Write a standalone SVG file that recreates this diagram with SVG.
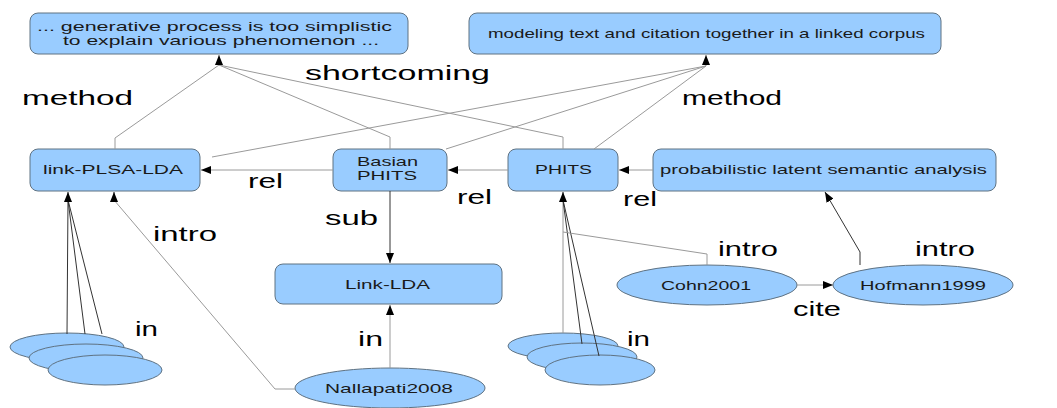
<svg xmlns="http://www.w3.org/2000/svg" width="1057" height="408" viewBox="0 0 1057 408">
<style>
.box{fill:#99ccff;stroke:#5f7282;stroke-width:1}
.t{font-family:"Liberation Sans",Arial,sans-serif;font-size:13px;fill:#1a1a1a}
.lab{font-family:"Liberation Sans",Arial,sans-serif;font-size:20px;fill:#000}
.c{fill:none;stroke:#9a9a9a;stroke-width:1}
.d{fill:none;stroke:#333;stroke-width:1}
.a{marker-end:url(#arr)}
</style>
<defs>
<marker id="arr" markerUnits="userSpaceOnUse" markerWidth="10" markerHeight="8" refX="10" refY="4" orient="auto">
<path d="M0,0 L10,4 L0,8 z" fill="#000"/>
</marker>
</defs>
<rect width="1057" height="408" fill="#fff"/>

<g id="n-generative"><rect class="box" x="30" y="13" width="378" height="41" rx="8"/>
<text class="t" x="37" y="31" textLength="355" lengthAdjust="spacingAndGlyphs">... generative process is too simplistic</text>
<text class="t" x="63" y="45" textLength="316" lengthAdjust="spacingAndGlyphs">to explain various phenomenon ...</text></g>
<g id="n-modeling"><rect class="box" x="469" y="13" width="472" height="41" rx="8"/>
<text class="t" x="488" y="38" textLength="437" lengthAdjust="spacingAndGlyphs">modeling text and citation together in a linked corpus</text></g>
<g id="n-linkplsa"><rect class="box" x="30" y="149" width="170" height="42" rx="8"/>
<text class="t" x="43" y="174" textLength="140" lengthAdjust="spacingAndGlyphs">link-PLSA-LDA</text></g>
<g id="n-basian"><rect class="box" x="333" y="149" width="114" height="42" rx="8"/>
<text class="t" x="357" y="166" textLength="61" lengthAdjust="spacingAndGlyphs">Basian</text>
<text class="t" x="357" y="180" textLength="60" lengthAdjust="spacingAndGlyphs">PHITS</text></g>
<g id="n-phits"><rect class="box" x="508" y="149" width="110" height="42" rx="8"/>
<text class="t" x="535" y="174" textLength="57" lengthAdjust="spacingAndGlyphs">PHITS</text></g>
<g id="n-plsa"><rect class="box" x="653" y="149" width="343" height="42" rx="8"/>
<text class="t" x="660" y="174" textLength="327" lengthAdjust="spacingAndGlyphs">probabilistic latent semantic analysis</text></g>
<g id="n-linklda"><rect class="box" x="275" y="264" width="227" height="40" rx="8"/>
<text class="t" x="345" y="289" textLength="85" lengthAdjust="spacingAndGlyphs">Link-LDA</text></g>
<g id="n-nallapati"><ellipse class="box" cx="390" cy="388" rx="95" ry="20"/>
<text class="t" x="325" y="393" textLength="128" lengthAdjust="spacingAndGlyphs">Nallapati2008</text></g>
<g id="n-cohn"><ellipse class="box" cx="707" cy="285" rx="90" ry="20"/>
<text class="t" x="661" y="290" textLength="90" lengthAdjust="spacingAndGlyphs">Cohn2001</text></g>
<g id="n-hofmann"><ellipse class="box" cx="923" cy="285" rx="90" ry="20"/>
<text class="t" x="860" y="290" textLength="126" lengthAdjust="spacingAndGlyphs">Hofmann1999</text></g>
<g id="n-leftstack">
<ellipse class="box" cx="67" cy="347" rx="57" ry="14"/>
<ellipse class="box" cx="86" cy="358" rx="57" ry="14"/>
<ellipse class="box" cx="105" cy="370" rx="57" ry="15"/></g>
<g id="n-rightstack">
<ellipse class="box" cx="563" cy="346" rx="55" ry="13"/>
<ellipse class="box" cx="582" cy="357" rx="55" ry="14"/>
<ellipse class="box" cx="600" cy="370" rx="55" ry="15"/></g>

<g id="connectors">
<polyline class="c" points="115,149 115,138 219,65"/>
<polyline class="c" points="390,149 390,137 219,65"/>
<polyline class="c" points="563,149 563,137 219,65"/>
<line class="c a" x1="219" y1="65" x2="219" y2="55"/>
<line class="c" x1="212" y1="157" x2="706" y2="66"/>
<line class="c" x1="446" y1="149" x2="706" y2="66"/>
<line class="c" x1="594" y1="149" x2="706" y2="66"/>
<line class="c a" x1="706" y1="66" x2="706" y2="55"/>
<line class="c a" x1="333" y1="170" x2="201" y2="170"/>
<line class="c a" x1="508" y1="170" x2="448" y2="170"/>
<line class="c a" x1="653" y1="170" x2="619" y2="170"/>
<line class="d a" x1="390" y1="191" x2="390" y2="263"/>
<line class="c a" x1="390" y1="368" x2="390" y2="305"/>
<polyline class="c" points="295,389 275,389 114,200"/>
<line class="d a" x1="114" y1="200" x2="114" y2="192"/>
<line class="d" x1="67" y1="334" x2="68" y2="200"/>
<line class="d" x1="85" y1="334" x2="68" y2="200"/>
<line class="d" x1="102" y1="334" x2="68" y2="200"/>
<line class="d a" x1="68" y1="200" x2="68" y2="192"/>
<line class="c" x1="563" y1="333" x2="563" y2="200"/>
<line class="d" x1="582" y1="344" x2="563" y2="200"/>
<line class="d" x1="599" y1="356" x2="563" y2="200"/>
<line class="d a" x1="563" y1="200" x2="563" y2="192"/>
<polyline class="c" points="707,265 707,254 563,232"/>
<polyline class="d a" points="860,265 860,252 825,192"/>
<line class="c a" x1="797" y1="285" x2="833" y2="285"/>
</g>

<g id="labels">
<text class="lab" x="305" y="80" textLength="185" lengthAdjust="spacingAndGlyphs">shortcoming</text>
<text class="lab" x="22" y="105" textLength="111" lengthAdjust="spacingAndGlyphs">method</text>
<text class="lab" x="682" y="105" textLength="100" lengthAdjust="spacingAndGlyphs">method</text>
<text class="lab" x="248" y="188" textLength="35" lengthAdjust="spacingAndGlyphs">rel</text>
<text class="lab" x="457" y="204" textLength="35" lengthAdjust="spacingAndGlyphs">rel</text>
<text class="lab" x="623" y="206" textLength="34" lengthAdjust="spacingAndGlyphs">rel</text>
<text class="lab" x="325" y="225" textLength="53" lengthAdjust="spacingAndGlyphs">sub</text>
<text class="lab" x="153" y="241" textLength="64" lengthAdjust="spacingAndGlyphs">intro</text>
<text class="lab" x="718" y="256" textLength="60" lengthAdjust="spacingAndGlyphs">intro</text>
<text class="lab" x="915" y="256" textLength="60" lengthAdjust="spacingAndGlyphs">intro</text>
<text class="lab" x="135" y="336" textLength="23" lengthAdjust="spacingAndGlyphs">in</text>
<text class="lab" x="358" y="346" textLength="25" lengthAdjust="spacingAndGlyphs">in</text>
<text class="lab" x="627" y="346" textLength="23" lengthAdjust="spacingAndGlyphs">in</text>
<text class="lab" x="793" y="316" textLength="48" lengthAdjust="spacingAndGlyphs">cite</text>
</g>
</svg>
